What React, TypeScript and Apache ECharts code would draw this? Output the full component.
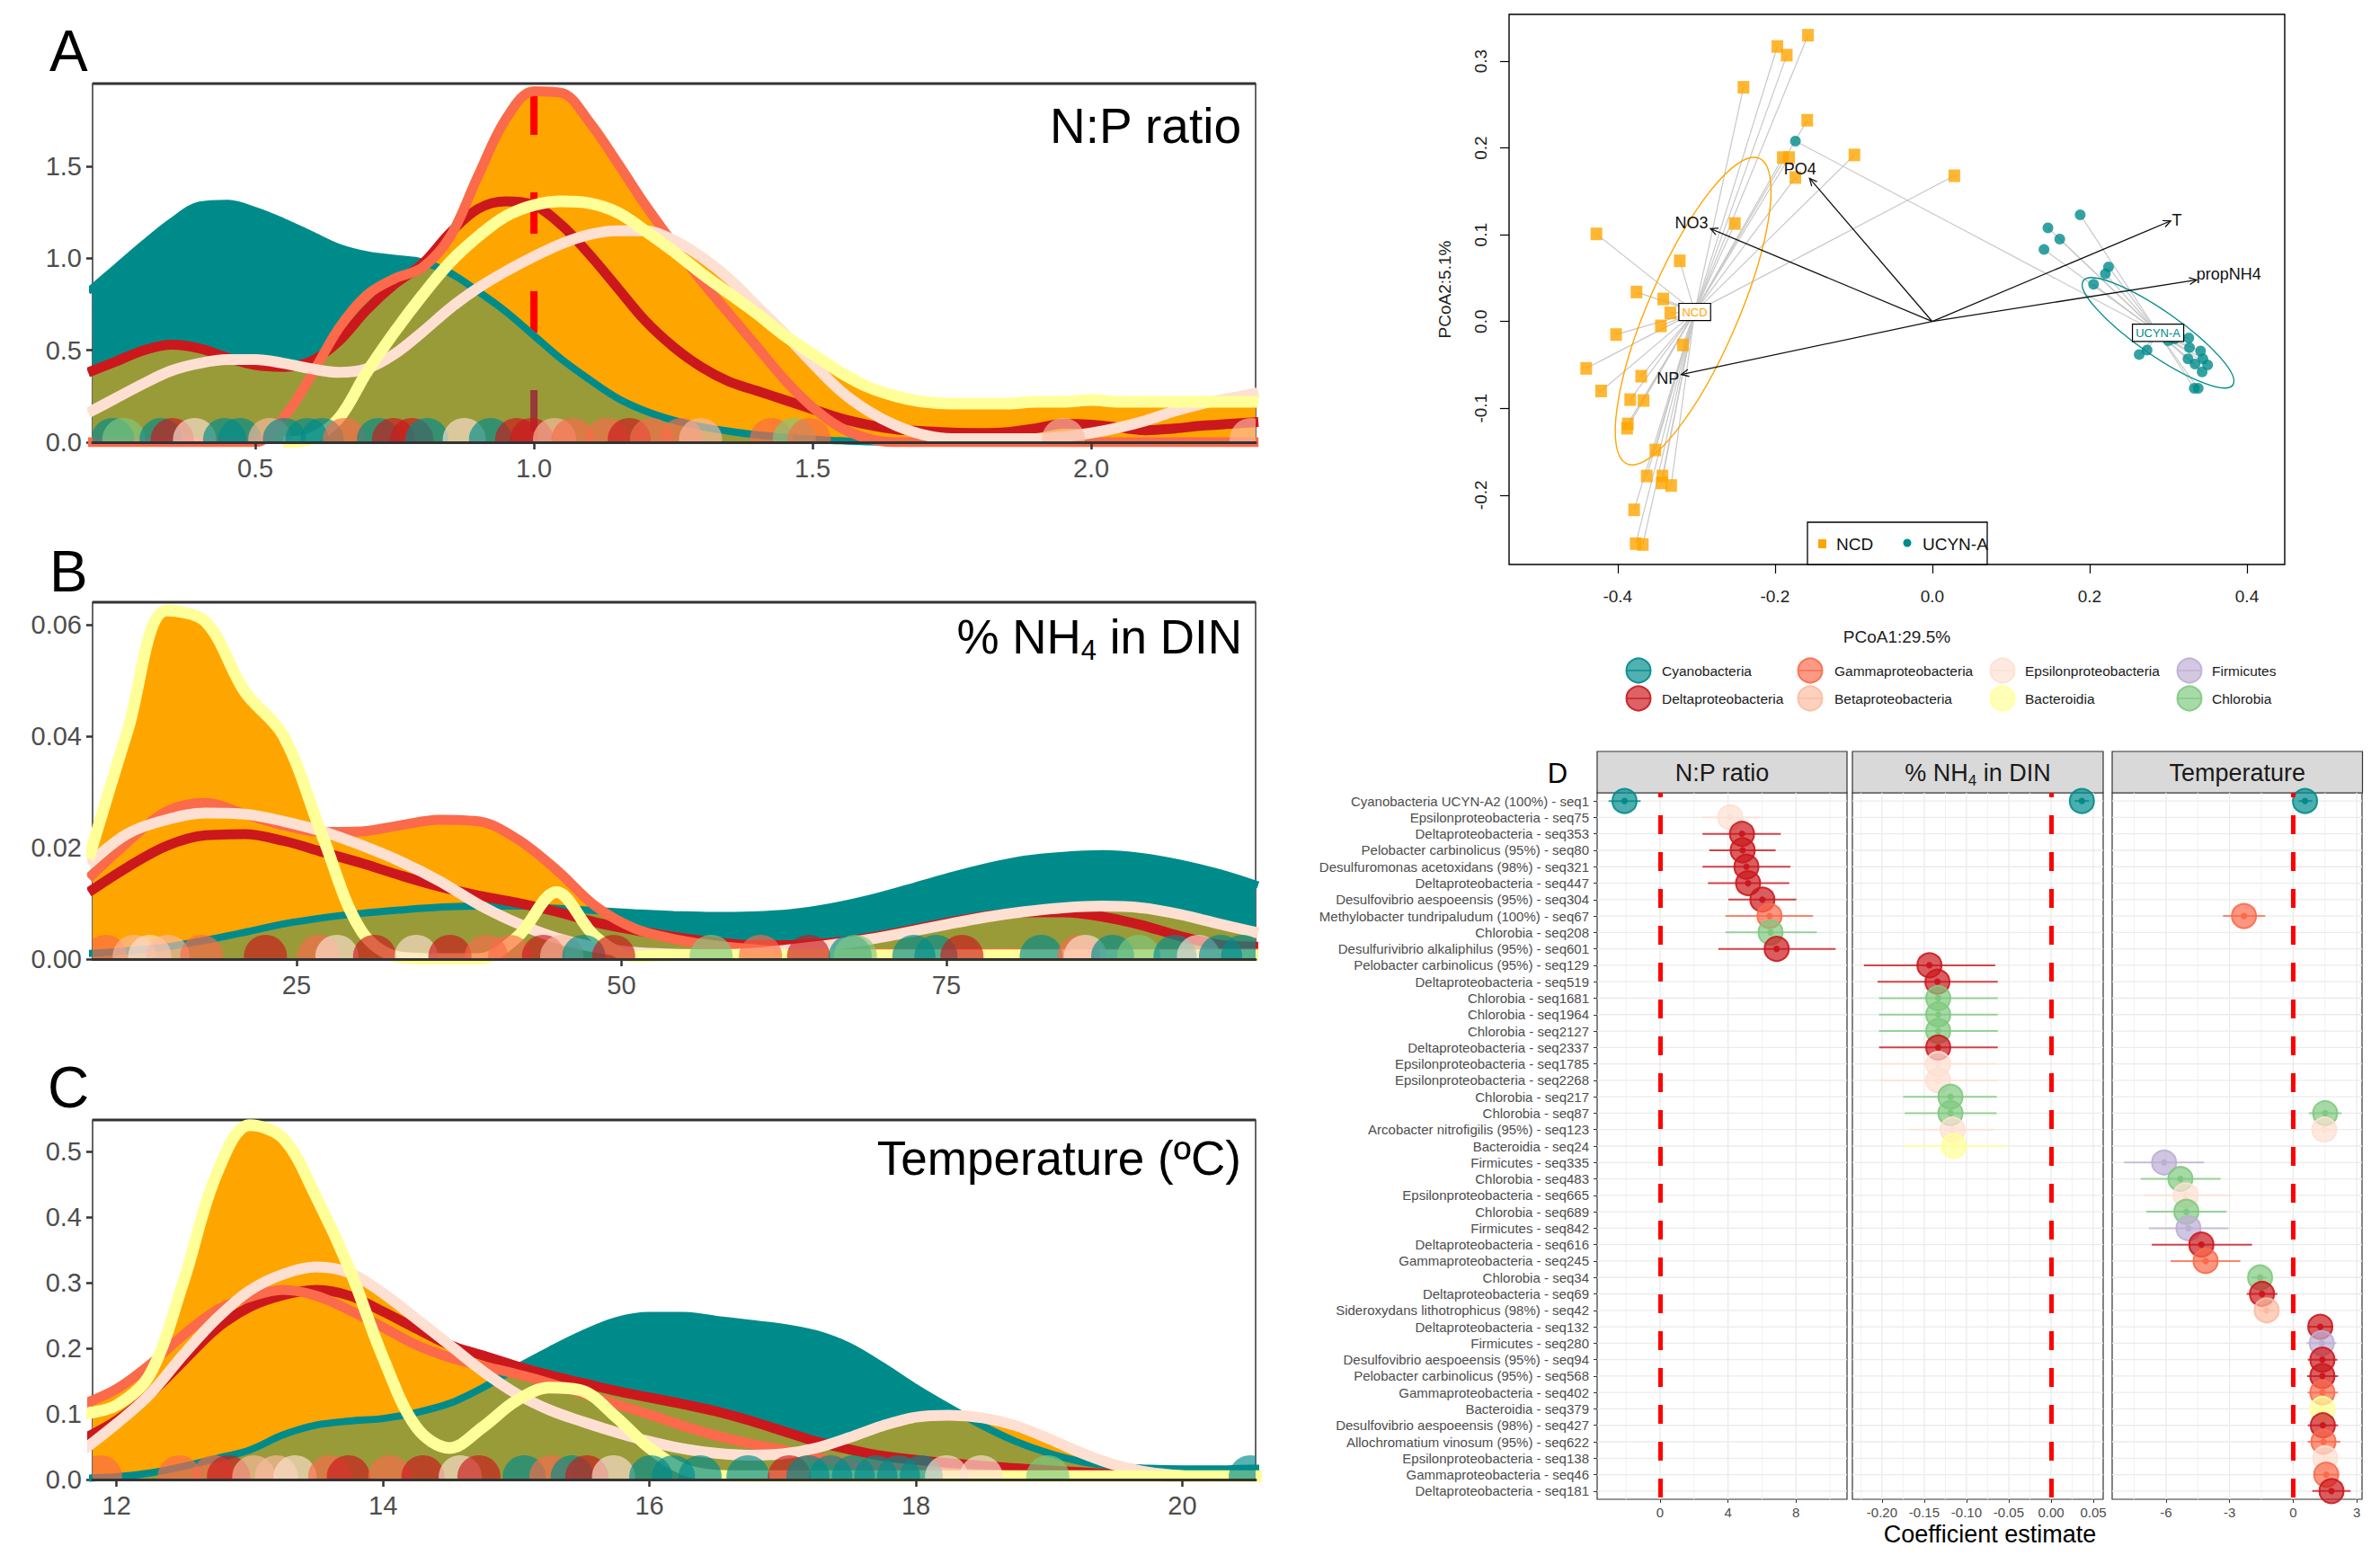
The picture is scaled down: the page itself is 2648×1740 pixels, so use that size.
import React, { useEffect, useRef } from "react";
import * as echarts from "echarts";

// ---------------- shared taxa ----------------
const TAXA = ["Cyanobacteria", "Deltaproteobacteria", "Gammaproteobacteria", "Betaproteobacteria", "Epsilonproteobacteria", "Bacteroidia", "Firmicutes", "Chlorobia"];
const TAXA_COLORS = ["#008B8B", "#CB181D", "#FB6A4A", "#FCBBA1", "#FEE0D2", "#FFFF99", "#BEAED4", "#7FC97F"];
const TEAL = "#008B8B";
const ORANGE = "#FFA500";
const FONT = "'Liberation Sans', Arial, Helvetica, sans-serif";

// ---------------- Panel A: N:P ratio ----------------
const NP_X = [0.20, 0.25, 0.30, 0.35, 0.40, 0.45, 0.50, 0.55, 0.60, 0.65, 0.70, 0.75, 0.80, 0.85, 0.90, 0.95, 1.00, 1.05, 1.10, 1.15, 1.20, 1.25, 1.30, 1.35, 1.40, 1.45, 1.50, 1.55, 1.60, 1.65, 1.70, 1.75, 1.80, 1.85, 1.90, 1.95, 2.00, 2.05, 2.10, 2.15, 2.20, 2.25, 2.30];
const NP_CYANO = [0.82, 0.95, 1.08, 1.20, 1.29, 1.30, 1.26, 1.20, 1.13, 1.06, 1.02, 1.00, 0.98, 0.92, 0.82, 0.71, 0.58, 0.45, 0.34, 0.24, 0.17, 0.12, 0.085, 0.06, 0.04, 0.027, 0.017, 0.008, 0.002, 0, 0, 0, 0, 0, 0, 0, 0, 0, 0, 0, 0, 0, 0];
const NP_DELTA = [0.38, 0.44, 0.50, 0.53, 0.51, 0.46, 0.42, 0.41, 0.44, 0.55, 0.72, 0.86, 0.97, 1.14, 1.27, 1.31, 1.29, 1.18, 1.02, 0.84, 0.66, 0.52, 0.41, 0.33, 0.28, 0.23, 0.18, 0.13, 0.095, 0.07, 0.06, 0.052, 0.05, 0.055, 0.075, 0.10, 0.095, 0.08, 0.065, 0.075, 0.09, 0.10, 0.11];
const NP_GAMMA = [0, 0, 0, 0, 0, 0, 0, 0.13, 0.36, 0.62, 0.80, 0.89, 0.95, 1.12, 1.45, 1.76, 1.91, 1.90, 1.74, 1.52, 1.29, 1.08, 0.88, 0.70, 0.52, 0.34, 0.19, 0.08, 0.02, 0, 0, 0, 0, 0, 0, 0, 0, 0, 0, 0, 0, 0, 0];
const NP_EPSILON = [0.16, 0.24, 0.32, 0.39, 0.43, 0.45, 0.45, 0.43, 0.40, 0.38, 0.40, 0.48, 0.60, 0.73, 0.84, 0.93, 1.01, 1.08, 1.13, 1.15, 1.15, 1.10, 1.01, 0.89, 0.74, 0.59, 0.43, 0.28, 0.17, 0.09, 0.04, 0.02, 0.02, 0.02, 0.02, 0.03, 0.05, 0.08, 0.12, 0.17, 0.21, 0.24, 0.27];
// null = no density drawn for this group at that x
const NP_BACTEROIDIA = [null, null, null, null, null, null, null, 0, 0.02, 0.13, 0.38, 0.60, 0.80, 0.98, 1.12, 1.23, 1.29, 1.31, 1.30, 1.25, 1.15, 1.04, 0.92, 0.81, 0.70, 0.58, 0.48, 0.38, 0.30, 0.25, 0.22, 0.21, 0.21, 0.21, 0.22, 0.22, 0.23, 0.22, 0.22, 0.22, 0.22, 0.22, 0.22];
const NP_REFERENCE = 1.0;
const RUG_NP_X = [0.244, 0.264, 0.331, 0.351, 0.391, 0.445, 0.472, 0.526, 0.552, 0.593, 0.62, 0.66, 0.721, 0.748, 0.781, 0.808, 0.875, 0.922, 0.969, 0.996, 1.037, 1.07, 1.131, 1.171, 1.211, 1.265, 1.299, 1.426, 1.467, 1.494, 1.95, 2.287];
const RUG_NP_T = [0, 7, 0, 1, 4, 0, 0, 3, 0, 0, 0, 2, 0, 1, 1, 0, 4, 0, 1, 1, 3, 2, 2, 1, 2, 2, 3, 2, 7, 2, 3, 3];

// ---------------- Panel B: % NH4 in DIN ----------------
const NH4_X = [9, 12, 15, 18, 21, 24, 27, 30, 33, 36, 39, 42, 45, 48, 51, 54, 57, 60, 63, 66, 69, 72, 75, 78, 81, 84, 87, 90, 93, 96, 99];
const NH4_CYANO = [0.001, 0.0015, 0.0022, 0.0034, 0.0048, 0.0063, 0.0074, 0.0082, 0.0088, 0.0093, 0.0095, 0.0095, 0.0091, 0.0087, 0.0083, 0.0080, 0.0078, 0.0079, 0.0083, 0.0093, 0.0108, 0.0127, 0.0147, 0.0165, 0.0179, 0.0186, 0.0189, 0.0184, 0.0172, 0.0155, 0.0133];
const NH4_DELTA = [0.012, 0.0165, 0.0203, 0.0222, 0.0224, 0.0212, 0.0192, 0.0172, 0.015, 0.013, 0.0114, 0.0101, 0.0085, 0.0066, 0.0052, 0.004, 0.0031, 0.0025, 0.0025, 0.0029, 0.0038, 0.0051, 0.0065, 0.0077, 0.0084, 0.0084, 0.0076, 0.0061, 0.0041, 0.0026, 0.0022];
const NH4_GAMMA = [0.0145, 0.021, 0.0265, 0.028, 0.026, 0.024, 0.0228, 0.0229, 0.024, 0.025, 0.0247, 0.0215, 0.016, 0.0095, 0.0055, 0.0036, 0.0025, 0.0018, 0.0013, 0.001, 0.001, 0.001, 0.001, 0.001, 0.001, 0.001, 0.001, 0.001, 0.001, 0.001, 0.001];
const NH4_EPSILON = [0.017, 0.0225, 0.025, 0.0262, 0.026, 0.0247, 0.0229, 0.0204, 0.0175, 0.014, 0.0098, 0.0064, 0.0038, 0.0021, 0.0012, 0.0009, 0.0008, 0.001, 0.0017, 0.0025, 0.0035, 0.0048, 0.0062, 0.0075, 0.0085, 0.0092, 0.0095, 0.0092, 0.008, 0.0063, 0.0047];
const NH4_BACTEROIDIA = [0.018, 0.041, 0.0625, 0.0605, 0.048, 0.040, 0.022, 0.005, 0.0003, 0, 0, 0.004, 0.012, 0.004, 0.0005, 0.0007, 0.0007, 0.0007, 0.0007, 0.0007, 0.0007, 0.0007, 0.0007, 0.0007, 0.0007, 0.0007, 0.0007, 0.0007, 0.0007, 0.0007, 0.0007];
const RUG_NH4_X = [10.3, 12.5, 13.7, 15.1, 17.7, 22.6, 26.7, 28.1, 31.0, 34.2, 36.8, 39.6, 41.4, 44.0, 45.4, 47.1, 49.4, 56.9, 60.7, 64.4, 67.6, 68.0, 72.5, 74.2, 76.2, 82.3, 85.2, 85.7, 87.8, 89.8, 92.6, 94.4, 96.1, 97.8];
const RUG_NH4_T = [2, 3, 4, 3, 2, 1, 2, 4, 1, 4, 1, 2, 2, 1, 3, 0, 1, 7, 2, 1, 0, 7, 0, 0, 1, 0, 2, 4, 0, 7, 0, 4, 0, 0];

// ---------------- Panel C: Temperature ----------------
const T_X = [11.75, 12, 12.25, 12.5, 12.75, 13, 13.25, 13.5, 13.75, 14, 14.25, 14.5, 14.75, 15, 15.25, 15.5, 15.75, 16, 16.25, 16.5, 16.75, 17, 17.25, 17.5, 17.75, 18, 18.25, 18.5, 18.75, 19, 19.25, 19.5, 19.75, 20, 20.25, 20.5, 20.75];
const T_CYANO = [0.002, 0.004, 0.01, 0.02, 0.032, 0.045, 0.068, 0.083, 0.089, 0.093, 0.102, 0.116, 0.14, 0.17, 0.197, 0.222, 0.242, 0.25, 0.25, 0.244, 0.238, 0.232, 0.222, 0.203, 0.173, 0.14, 0.11, 0.082, 0.058, 0.04, 0.027, 0.02, 0.017, 0.016, 0.016, 0.017, 0.017];
const T_DELTA = [0.062, 0.09, 0.13, 0.18, 0.23, 0.263, 0.281, 0.289, 0.28, 0.256, 0.23, 0.205, 0.189, 0.173, 0.159, 0.147, 0.135, 0.125, 0.115, 0.104, 0.09, 0.074, 0.058, 0.046, 0.036, 0.03, 0.025, 0.021, 0.017, 0.014, 0.011, 0.008, 0.007, 0.006, 0.005, 0.005, 0.005];
const T_GAMMA = [0.115, 0.138, 0.175, 0.22, 0.258, 0.278, 0.289, 0.28, 0.258, 0.232, 0.205, 0.186, 0.173, 0.161, 0.147, 0.131, 0.115, 0.099, 0.082, 0.067, 0.055, 0.045, 0.033, 0.025, 0.018, 0.014, 0.01, 0.008, 0.006, 0.006, 0.005, 0.005, 0.005, 0.004, 0.004, 0.004, 0.004];
const T_EPSILON = [0.045, 0.085, 0.13, 0.19, 0.245, 0.288, 0.313, 0.324, 0.315, 0.284, 0.245, 0.205, 0.165, 0.131, 0.106, 0.088, 0.072, 0.058, 0.047, 0.04, 0.037, 0.039, 0.048, 0.064, 0.082, 0.095, 0.098, 0.094, 0.082, 0.062, 0.04, 0.022, 0.011, 0.006, 0.004, 0.004, 0.004];
const T_BACTEROIDIA = [0.10, 0.113, 0.16, 0.30, 0.465, 0.54, 0.52, 0.43, 0.32, 0.186, 0.08, 0.048, 0.08, 0.12, 0.14, 0.135, 0.095, 0.048, 0.016, 0.006, 0.005, 0.005, 0.005, 0.005, 0.005, 0.005, 0.005, 0.005, 0.005, 0.005, 0.005, 0.005, 0.005, 0.005, 0.005, 0.005, 0.005];
const RUG_T_X = [11.88, 12.47, 12.73, 12.84, 13.03, 13.2, 13.34, 13.6, 13.74, 14.05, 14.3, 14.58, 14.72, 15.06, 15.26, 15.42, 15.53, 15.73, 16.01, 16.18, 16.38, 16.74, 17.05, 17.19, 17.36, 17.53, 17.7, 17.87, 18.04, 18.23, 18.49, 18.99, 20.51];
const RUG_T_T = [2, 2, 2, 1, 3, 3, 4, 2, 1, 2, 1, 4, 1, 0, 2, 0, 1, 4, 0, 0, 0, 0, 1, 0, 0, 0, 0, 0, 0, 4, 4, 7, 0];

// axis ranges / ticks for density panels
const DENS_AXES = [
  { xmin: 0.208, xmax: 2.295, xt: [0.5, 1.0, 1.5, 2.0], xd: 1, ymax: 1.951, yt: [0, 0.5, 1.0, 1.5], yd: 1 },
  { xmin: 9.3, xmax: 98.8, xt: [25, 50, 75], xd: 0, ymax: 0.064, yt: [0, 0.02, 0.04, 0.06], yd: 2 },
  { xmin: 11.82, xmax: 20.55, xt: [12, 14, 16, 18, 20], xd: 0, ymax: 0.548, yt: [0, 0.1, 0.2, 0.3, 0.4, 0.5], yd: 1 },
];

// ---------------- PCoA ----------------
const NCD_X = [-0.158, -0.197, -0.185, -0.240, -0.159, -0.190, -0.182, -0.099, -0.174, 0.028, -0.251, -0.427, -0.321, -0.376, -0.342, -0.333, -0.345, -0.402, -0.317, -0.440, -0.370, -0.421, -0.384, -0.367, -0.387, -0.388, -0.352, -0.363, -0.343, -0.344, -0.332, -0.379, -0.377, -0.368];
const NCD_Y = [0.330, 0.317, 0.307, 0.270, 0.232, 0.189, 0.189, 0.192, 0.166, 0.168, 0.113, 0.101, 0.070, 0.034, 0.026, 0.010, -0.005, -0.015, -0.027, -0.054, -0.063, -0.080, -0.090, -0.091, -0.118, -0.123, -0.148, -0.178, -0.178, -0.186, -0.189, -0.217, -0.256, -0.257];
const UCYN_X = [-0.174, 0.188, 0.147, 0.162, 0.142, 0.224, 0.220, 0.205, 0.300, 0.308, 0.326, 0.327, 0.273, 0.263, 0.341, 0.325, 0.344, 0.334, 0.350, 0.343, 0.333, 0.338];
const UCYN_Y = [0.208, 0.123, 0.108, 0.095, 0.083, 0.063, 0.055, 0.043, -0.022, -0.020, -0.019, -0.030, -0.033, -0.038, -0.034, -0.043, -0.043, -0.049, -0.050, -0.058, -0.077, -0.077];
const GROUPS = ["NCD", "UCYN-A"];
const GROUP_COLORS = [ORANGE, TEAL];
const CENT_X = [-0.302, 0.287];
const CENT_Y = [0.011, -0.013];
const ELL_CX = [-0.304, 0.287];
const ELL_CY = [0.012, -0.013];
const ELL_EX = [-0.220, 0.382];
const ELL_EY = [0.188, -0.073];
const ELL_RATIO = [0.27, 0.24];
const VAR_NAMES = ["NO3", "PO4", "T", "propNH4", "NP"];
const VAR_END_X = [-0.282, -0.156, 0.303, 0.336, -0.319];
const VAR_END_Y = [0.107, 0.165, 0.116, 0.048, -0.061];
const VAR_LAB_X = [-0.306, -0.168, 0.311, 0.377, -0.336];
const VAR_LAB_Y = [0.114, 0.176, 0.117, 0.055, -0.066];
const PC_XT = [-0.4, -0.2, 0.0, 0.2, 0.4];
const PC_YT = [-0.2, -0.1, 0.0, 0.1, 0.2, 0.3];

// ---------------- Panel D: coefficients ----------------
const D_NAMES = [
  "Cyanobacteria UCYN-A2 (100%) - seq1", "Epsilonproteobacteria - seq75", "Deltaproteobacteria - seq353", "Pelobacter carbinolicus (95%) - seq80",
  "Desulfuromonas acetoxidans (98%) - seq321", "Deltaproteobacteria - seq447", "Desulfovibrio aespoeensis (95%) - seq304", "Methylobacter tundripaludum (100%) - seq67",
  "Chlorobia - seq208", "Desulfurivibrio alkaliphilus (95%) - seq601", "Pelobacter carbinolicus (95%) - seq129", "Deltaproteobacteria - seq519",
  "Chlorobia - seq1681", "Chlorobia - seq1964", "Chlorobia - seq2127", "Deltaproteobacteria - seq2337",
  "Epsilonproteobacteria - seq1785", "Epsilonproteobacteria - seq2268", "Chlorobia - seq217", "Chlorobia - seq87",
  "Arcobacter nitrofigilis (95%) - seq123", "Bacteroidia - seq24", "Firmicutes - seq335", "Chlorobia - seq483",
  "Epsilonproteobacteria - seq665", "Chlorobia - seq689", "Firmicutes - seq842", "Deltaproteobacteria - seq616",
  "Gammaproteobacteria - seq245", "Chlorobia - seq34", "Deltaproteobacteria - seq69", "Sideroxydans lithotrophicus (98%) - seq42",
  "Deltaproteobacteria - seq132", "Firmicutes - seq280", "Desulfovibrio aespoeensis (95%) - seq94", "Pelobacter carbinolicus (95%) - seq568",
  "Gammaproteobacteria - seq402", "Bacteroidia - seq379", "Desulfovibrio aespoeensis (98%) - seq427", "Allochromatium vinosum (95%) - seq622",
  "Epsilonproteobacteria - seq138", "Gammaproteobacteria - seq46", "Deltaproteobacteria - seq181",
];
const D_TAXA = [0, 4, 1, 1, 1, 1, 1, 2, 7, 1, 1, 1, 7, 7, 7, 1, 4, 4, 7, 7, 4, 5, 6, 7, 4, 7, 6, 1, 2, 7, 1, 3, 1, 6, 1, 1, 2, 5, 1, 2, 4, 2, 1];

const NP_ROWS = [1, 2, 3, 4, 5, 6, 7, 8, 9, 10];
const NP_EST = [-2.09, 4.13, 4.82, 4.86, 5.08, 5.18, 6.02, 6.44, 6.50, 6.86];
const NP_LO = [-3.03, 2.44, 2.50, 2.90, 2.50, 2.82, 4.02, 3.85, 3.85, 3.43];
const NP_HI = [-1.14, 5.92, 7.10, 6.80, 7.67, 7.60, 8.02, 9.00, 9.22, 10.33];

const NH4_ROWS = [1, 11, 12, 13, 14, 15, 16, 17, 18, 19, 20, 21, 22];
const NH4_EST = [0.0365, -0.1439, -0.1344, -0.1335, -0.1335, -0.1335, -0.1335, -0.1335, -0.1335, -0.119, -0.119, -0.1165, -0.115];
const NH4_LO = [0.028, -0.2214, -0.2052, -0.2035, -0.2035, -0.2035, -0.2035, -0.2035, -0.2035, -0.175, -0.173, -0.168, -0.175];
const NH4_HI = [0.045, -0.066, -0.063, -0.063, -0.063, -0.063, -0.063, -0.063, -0.063, -0.064, -0.0645, -0.067, -0.0525];

const TEMP_ROWS = [1, 8, 20, 21, 23, 24, 25, 26, 27, 28, 29, 30, 31, 32, 33, 34, 35, 36, 37, 38, 39, 40, 41, 42, 43];
const TEMP_EST = [0.56, -2.32, 1.51, 1.47, -6.09, -5.32, -5.07, -5.04, -4.94, -4.33, -4.13, -1.56, -1.47, -1.25, 1.28, 1.35, 1.38, 1.38, 1.38, 1.38, 1.40, 1.43, 1.51, 1.56, 1.81];
const TEMP_LO = [0.25, -3.31, 0.74, 0.95, -7.98, -7.19, -7.05, -6.93, -6.80, -6.67, -5.78, -1.95, -2.19, -1.60, 0.71, 0.63, 0.69, 0.66, 0.69, 0.80, 0.69, 0.69, 0.97, 0.97, 0.90];
const TEMP_HI = [0.90, -1.32, 2.29, 2.00, -4.20, -3.43, -2.92, -3.14, -3.05, -1.94, -2.49, -1.25, -0.74, -0.90, 1.89, 2.04, 2.09, 2.12, 2.12, 1.98, 2.12, 2.23, 2.09, 2.17, 2.71];

const D_FACETS = [
  { title: "N:P ratio", min: -3.7, max: 11.0, major: [0, 4, 8], minor: [-2, 2, 6, 10], dec: 0 },
  { title: "% NH4 in DIN", min: -0.235, max: 0.0617, major: [-0.2, -0.15, -0.1, -0.05, 0, 0.05], minor: [-0.225, -0.175, -0.125, -0.075, -0.025, 0.025], dec: 2 },
  { title: "Temperature", min: -8.54, max: 3.25, major: [-6, -3, 0, 3], minor: [-7.5, -4.5, -1.5, 1.5], dec: 0 },
];

// ---------------- helpers ----------------
function rgba(hex: string, a: number) {
  const n = parseInt(hex.slice(1), 16);
  return `rgba(${(n >> 16) & 255},${(n >> 8) & 255},${n & 255},${a})`;
}

const LINE_COLORS = [TAXA_COLORS[1], TAXA_COLORS[2], TAXA_COLORS[4], TAXA_COLORS[5]];
const LINE_WIDTHS = [11, 11, 12, 13];

function rugRender(params: any, api: any) {
  const cs = params.coordSys;
  const x = api.value(0);
  const t = api.value(2);
  const p = api.coord([x, 0]);
  const r = 24;
  const off = 3;
  const cy = p[1] - off;
  const a0 = Math.asin(off / r);
  const pts: number[][] = [];
  const N = 28;
  for (let i = 0; i <= N; i++) {
    const a = -a0 + ((Math.PI + 2 * a0) * i) / N;
    const px = Math.min(cs.x + cs.width, Math.max(cs.x, p[0] + r * Math.cos(a)));
    pts.push([px, cy - r * Math.sin(a)]);
  }
  return { type: "polygon", shape: { points: pts }, style: { fill: rgba(TAXA_COLORS[t], 0.66) } };
}

function densitySeries(gi: number, X: number[], teal: number[], lines: any[][], rugX: number[], rugT: number[], ymax: number, vline: number | null) {
  const pts = (ys: any[]) => X.map((x, i) => [x, ys[i] === null ? "-" : ys[i]]);
  const base = { type: "line", xAxisIndex: gi, yAxisIndex: gi, smooth: 0.35, symbol: "none", silent: true };
  const out: any[] = [];
  out.push({ ...base, z: 1, data: pts(teal), lineStyle: { width: 0, opacity: 0 }, areaStyle: { color: TEAL, opacity: 1 } });
  lines.forEach((ys) => out.push({ ...base, z: 2, data: pts(ys), lineStyle: { width: 0, opacity: 0 }, areaStyle: { color: ORANGE, opacity: 1 } }));
  if (vline !== null) {
    out.push({ ...base, z: 3, smooth: false, data: [[vline, ymax], [vline, 0]], lineStyle: { color: "#FF0000", width: 8, type: [46, 64], dashOffset: 99 } });
  }
  out.push({ ...base, z: 4, data: pts(teal), lineStyle: { width: 0, opacity: 0 }, areaStyle: { color: TEAL, opacity: 0.4 } });
  out.push({ ...base, z: 5, data: pts(teal), lineStyle: { color: TEAL, width: 8 } });
  lines.forEach((ys, k) => out.push({ ...base, z: 6 + k, data: pts(ys), lineStyle: { color: LINE_COLORS[k], width: LINE_WIDTHS[k] } }));
  out.push({ type: "custom", z: 12, xAxisIndex: gi, yAxisIndex: gi, silent: true, data: rugX.map((x, i) => [x, 0, rugT[i]]), renderItem: rugRender });
  return out;
}

function coefRender(params: any, api: any) {
  const est = api.value(0);
  const row = api.value(1);
  const lo = api.value(2);
  const hi = api.value(3);
  const c = TAXA_COLORS[api.value(4)];
  const p = api.coord([est, row]);
  const pl = api.coord([lo, row]);
  const ph = api.coord([hi, row]);
  return {
    type: "group",
    children: [
      { type: "line", shape: { x1: pl[0], y1: pl[1], x2: ph[0], y2: ph[1] }, style: { stroke: rgba(c, 0.8), lineWidth: 2 } },
      { type: "circle", shape: { cx: p[0], cy: p[1], r: 13.5 }, style: { fill: rgba(c, 0.7), stroke: rgba(c, 0.9), lineWidth: 2 } },
      { type: "circle", shape: { cx: p[0], cy: p[1], r: 3.6 }, style: { fill: rgba(c, 1) } },
    ],
  };
}

function gridRenderFactory(major: number[], minor: number[]) {
  return (params: any, api: any) => {
    const cs = params.coordSys;
    const children: any[] = [];
    minor.forEach((v) => {
      const x = api.coord([v, 0])[0];
      children.push({ type: "line", shape: { x1: x, y1: cs.y, x2: x, y2: cs.y + cs.height }, style: { stroke: "#F2F2F2", lineWidth: 1 } });
    });
    D_NAMES.forEach((n, i) => {
      const y = api.coord([0, i])[1];
      children.push({ type: "line", shape: { x1: cs.x, y1: y, x2: cs.x + cs.width, y2: y }, style: { stroke: "#EBEBEB", lineWidth: 1.3 } });
    });
    major.forEach((v) => {
      const x = api.coord([v, 0])[0];
      children.push({ type: "line", shape: { x1: x, y1: cs.y, x2: x, y2: cs.y + cs.height }, style: { stroke: "#EBEBEB", lineWidth: 1.3 } });
    });
    return { type: "group", children };
  };
}

function txt(text: string, x: number, y: number, size: number, align: string, color = "#000", extra: any = {}) {
  return { type: "text", x, y, silent: true, style: { text, fontSize: size, fontFamily: FONT, fill: color, textAlign: align, textVerticalAlign: "middle", ...extra } };
}

function buildOption() {
  const gridLayout = [
    { left: 103, top: 93, width: 1294, height: 399 },
    { left: 103, top: 670, width: 1294, height: 397 },
    { left: 103, top: 1246, width: 1294, height: 400 },
    { left: 1679, top: 16, width: 863, height: 612 },
    { left: 1777, top: 882, width: 278, height: 786 },
    { left: 2061, top: 882, width: 279, height: 786 },
    { left: 2350, top: 882, width: 278, height: 786 },
  ];
  const grid = gridLayout.map((g, i) => ({
    ...g, show: true, containLabel: false, backgroundColor: "transparent",
    borderColor: i === 3 ? "#000" : "#333", borderWidth: i === 3 ? 1.4 : i < 3 ? 1.5 : 1.2,
  }));

  const xAxis: any[] = [];
  const yAxis: any[] = [];
  DENS_AXES.forEach((d, i) => {
    xAxis.push({
      gridIndex: i, type: "value", min: d.xmin, max: d.xmax, z: 20,
      axisLine: { show: true, onZero: false, lineStyle: { color: "#333", width: 3 } },
      axisTick: { show: true, customValues: d.xt, length: 8, lineStyle: { color: "#333", width: 2.5 } },
      axisLabel: { customValues: d.xt, formatter: (v: number) => v.toFixed(d.xd), fontSize: 29, color: "#4D4D4D", margin: 14 },
      splitLine: { show: false },
    });
    yAxis.push({
      gridIndex: i, type: "value", min: 0, max: d.ymax,
      axisLine: { show: false, onZero: false },
      axisTick: { show: true, customValues: d.yt, length: 7, lineStyle: { color: "#333", width: 2.5 } },
      axisLabel: { customValues: d.yt, formatter: (v: number) => v.toFixed(d.yd), fontSize: 29, color: "#4D4D4D", margin: 12 },
      splitLine: { show: false },
    });
  });
  // PCoA axes
  xAxis.push({
    gridIndex: 3, type: "value", min: -0.538, max: 0.448,
    axisLine: { show: false, onZero: false },
    axisTick: { show: true, customValues: PC_XT, length: 10, lineStyle: { color: "#000", width: 1.2 } },
    axisLabel: { customValues: PC_XT, formatter: (v: number) => v.toFixed(1), fontSize: 19, color: "#222", margin: 26 },
    splitLine: { show: false },
    name: "PCoA1:29.5%", nameLocation: "middle", nameGap: 71, nameTextStyle: { fontSize: 19, color: "#222", fontFamily: FONT },
  });
  yAxis.push({
    gridIndex: 3, type: "value", min: -0.28, max: 0.354,
    axisLine: { show: false, onZero: false },
    axisTick: { show: true, customValues: PC_YT, length: 10, lineStyle: { color: "#000", width: 1.2 } },
    axisLabel: { customValues: PC_YT, formatter: (v: number) => v.toFixed(1), fontSize: 19, color: "#222", margin: 22, rotate: 90 },
    splitLine: { show: false },
    name: "PCoA2:5.1%", nameLocation: "middle", nameRotate: 90, nameGap: 62, nameTextStyle: { fontSize: 19, color: "#222", fontFamily: FONT },
  });
  // D axes
  D_FACETS.forEach((f, k) => {
    const gi = 4 + k;
    xAxis.push({
      gridIndex: gi, type: "value", min: f.min, max: f.max,
      axisLine: { show: false, onZero: false },
      axisTick: { show: true, customValues: f.major, length: 4, lineStyle: { color: "#333", width: 1 } },
      axisLabel: { customValues: f.major, formatter: (v: number) => v.toFixed(f.dec), fontSize: 15, color: "#4D4D4D", margin: 7 },
      splitLine: { show: false },
    });
    yAxis.push({
      gridIndex: gi, type: "category", data: D_NAMES, inverse: true,
      axisLine: { show: false, onZero: false },
      axisTick: { show: k === 0, alignWithLabel: true, interval: 0, length: 4, lineStyle: { color: "#333", width: 1 } },
      axisLabel: { show: k === 0, interval: 0, fontSize: 15, color: "#4D4D4D", margin: 9 },
      splitLine: { show: false },
    });
  });

  const series: any[] = [];
  series.push(...densitySeries(0, NP_X, NP_CYANO, [NP_DELTA, NP_GAMMA, NP_EPSILON, NP_BACTEROIDIA], RUG_NP_X, RUG_NP_T, DENS_AXES[0].ymax, NP_REFERENCE));
  series.push(...densitySeries(1, NH4_X, NH4_CYANO, [NH4_DELTA, NH4_GAMMA, NH4_EPSILON, NH4_BACTEROIDIA], RUG_NH4_X, RUG_NH4_T, DENS_AXES[1].ymax, null));
  series.push(...densitySeries(2, T_X, T_CYANO, [T_DELTA, T_GAMMA, T_EPSILON, T_BACTEROIDIA], RUG_T_X, RUG_T_T, DENS_AXES[2].ymax, null));

  // PCoA: spider lines
  const spider: number[][] = [];
  NCD_X.forEach((x, i) => spider.push([x, NCD_Y[i], CENT_X[0], CENT_Y[0]]));
  UCYN_X.forEach((x, i) => spider.push([x, UCYN_Y[i], CENT_X[1], CENT_Y[1]]));
  series.push({
    type: "custom", z: 1, xAxisIndex: 3, yAxisIndex: 3, silent: true, data: spider,
    renderItem: (params: any, api: any) => {
      const a = api.coord([api.value(0), api.value(1)]);
      const b = api.coord([api.value(2), api.value(3)]);
      return { type: "line", shape: { x1: a[0], y1: a[1], x2: b[0], y2: b[1] }, style: { stroke: "#C8C8C8", lineWidth: 1.2 } };
    },
  });
  // ellipses
  series.push({
    type: "custom", z: 2, xAxisIndex: 3, yAxisIndex: 3, silent: true,
    data: ELL_CX.map((cx, i) => [cx, ELL_CY[i], ELL_EX[i], ELL_EY[i], ELL_RATIO[i]]),
    renderItem: (params: any, api: any) => {
      const c = api.coord([api.value(0), api.value(1)]);
      const e = api.coord([api.value(2), api.value(3)]);
      const dx = e[0] - c[0];
      const dy = e[1] - c[1];
      const rx = Math.sqrt(dx * dx + dy * dy);
      return {
        type: "ellipse", x: c[0], y: c[1], rotation: Math.atan2(-dy, dx),
        shape: { cx: 0, cy: 0, rx, ry: rx * api.value(4) },
        style: { fill: "none", stroke: GROUP_COLORS[params.dataIndex], lineWidth: 1.4 },
      };
    },
  });
  // arrows
  series.push({
    type: "custom", z: 3, xAxisIndex: 3, yAxisIndex: 3, silent: true,
    data: VAR_END_X.map((x, i) => [x, VAR_END_Y[i]]),
    renderItem: (params: any, api: any) => {
      const o = api.coord([0, 0]);
      const e = api.coord([api.value(0), api.value(1)]);
      const ang = Math.atan2(e[1] - o[1], e[0] - o[0]);
      const L = 9;
      const A = Math.PI / 7;
      const h1 = [e[0] - L * Math.cos(ang - A), e[1] - L * Math.sin(ang - A)];
      const h2 = [e[0] - L * Math.cos(ang + A), e[1] - L * Math.sin(ang + A)];
      return {
        type: "group",
        children: [
          { type: "line", shape: { x1: o[0], y1: o[1], x2: e[0], y2: e[1] }, style: { stroke: "#111", lineWidth: 1.3 } },
          { type: "polyline", shape: { points: [h1, e, h2] }, style: { stroke: "#111", lineWidth: 1.3, fill: "none" } },
        ],
      };
    },
  });
  series.push({
    type: "scatter", z: 4, xAxisIndex: 3, yAxisIndex: 3, silent: true, symbol: "rect", symbolSize: [13, 14],
    itemStyle: { color: ORANGE }, data: NCD_X.map((x, i) => [x, NCD_Y[i]]),
  });
  series.push({
    type: "scatter", z: 5, xAxisIndex: 3, yAxisIndex: 3, silent: true, symbol: "circle", symbolSize: 12,
    itemStyle: { color: TEAL }, data: UCYN_X.map((x, i) => [x, UCYN_Y[i]]),
  });
  // arrow labels
  series.push({
    type: "custom", z: 8, xAxisIndex: 3, yAxisIndex: 3, silent: true,
    data: VAR_LAB_X.map((x, i) => [x, VAR_LAB_Y[i]]),
    renderItem: (params: any, api: any) => {
      const p = api.coord([api.value(0), api.value(1)]);
      return { type: "text", x: p[0], y: p[1], style: { text: VAR_NAMES[params.dataIndex], fontSize: 18, fontFamily: FONT, fill: "#111", textAlign: "center", textVerticalAlign: "middle" } };
    },
  });
  // centroid labels
  series.push({
    type: "custom", z: 10, xAxisIndex: 3, yAxisIndex: 3, silent: true,
    data: CENT_X.map((x, i) => [x, CENT_Y[i]]),
    renderItem: (params: any, api: any) => {
      const p = api.coord([api.value(0), api.value(1)]);
      return {
        type: "text", x: p[0], y: p[1],
        style: {
          text: GROUPS[params.dataIndex], fontSize: 13, fontFamily: FONT, fill: GROUP_COLORS[params.dataIndex],
          textAlign: "center", textVerticalAlign: "middle", backgroundColor: "#fff", borderColor: "#000", borderWidth: 1.2, padding: [3, 3, 2, 3],
        },
      };
    },
  });

  // D facets
  const facetData = [
    NP_ROWS.map((r, k) => [NP_EST[k], D_NAMES[r - 1], NP_LO[k], NP_HI[k], D_TAXA[r - 1]]),
    NH4_ROWS.map((r, k) => [NH4_EST[k], D_NAMES[r - 1], NH4_LO[k], NH4_HI[k], D_TAXA[r - 1]]),
    TEMP_ROWS.map((r, k) => [TEMP_EST[k], D_NAMES[r - 1], TEMP_LO[k], TEMP_HI[k], D_TAXA[r - 1]]),
  ];
  D_FACETS.forEach((f, k) => {
    const gi = 4 + k;
    series.push({
      type: "custom", z: 1, xAxisIndex: gi, yAxisIndex: gi, silent: true, data: [[f.min, 0]],
      renderItem: gridRenderFactory(f.major, f.minor),
    });
    series.push({
      type: "custom", z: 3, xAxisIndex: gi, yAxisIndex: gi, silent: true, data: facetData[k], renderItem: coefRender,
      markLine: {
        silent: true, symbol: "none", label: { show: false }, animation: false,
        lineStyle: { color: "#FF0000", width: 5, type: [21, 20], dashOffset: 16 },
        data: [{ xAxis: 0 }],
      },
    });
  });

  // ---------- graphic ----------
  const g: any[] = [];
  g.push(txt("A", 55, 57, 64, "left"));
  g.push(txt("B", 55, 636, 64, "left"));
  g.push(txt("C", 53, 1210, 64, "left"));
  g.push(txt("N:P ratio", 1381, 140, 55, "right"));
  g.push({
    type: "text", x: 1382, y: 708, silent: true,
    style: {
      text: "{m|% NH}{s|4}{m| in DIN}", textAlign: "right", textVerticalAlign: "middle",
      rich: {
        m: { fontSize: 53, fontFamily: FONT, fill: "#000", color: "#000", lineHeight: 62 },
        s: { fontSize: 31, fontFamily: FONT, fill: "#000", color: "#000", lineHeight: 31, verticalAlign: "bottom" },
      },
    },
  });
  g.push(txt("Temperature (ºC)", 1381, 1288, 53, "right"));
  [93, 670, 1246].forEach((y) => g.push({ type: "line", silent: true, shape: { x1: 103, y1: y, x2: 1397, y2: y }, style: { stroke: "#333", lineWidth: 3 } }));

  // D label, strips
  g.push(txt("D", 1733, 860, 31, "center"));
  const stripX = [1777, 2061, 2350];
  const stripW = [278, 279, 278.5];
  stripX.forEach((x, k) => {
    g.push({ type: "rect", silent: true, shape: { x, y: 836, width: stripW[k], height: 46 }, style: { fill: "#D9D9D9", stroke: "#333", lineWidth: 1.2 } });
  });
  g.push(txt("N:P ratio", stripX[0] + stripW[0] / 2, 860, 27, "center", "#1A1A1A"));
  g.push({
    type: "text", x: stripX[1] + stripW[1] / 2, y: 860, silent: true,
    style: {
      text: "{m|% NH}{s|4}{m| in DIN}", textAlign: "center", textVerticalAlign: "middle",
      rich: {
        m: { fontSize: 27, fontFamily: FONT, fill: "#1A1A1A", color: "#1A1A1A", lineHeight: 33 },
        s: { fontSize: 17, fontFamily: FONT, fill: "#1A1A1A", color: "#1A1A1A", lineHeight: 17, verticalAlign: "bottom" },
      },
    },
  });
  g.push(txt("Temperature", stripX[2] + stripW[2] / 2, 860, 27, "center", "#1A1A1A"));
  g.push(txt("Coefficient estimate", 2214, 1707, 27, "center"));

  // D legend
  const legCx = [1823, 2014, 2228, 2436];
  const legTx = [1849, 2041, 2253, 2461];
  const legCy = [746, 777];
  TAXA.forEach((name, i) => {
    const col = Math.floor(i / 2);
    const row = i % 2;
    const c = TAXA_COLORS[i];
    g.push({ type: "circle", silent: true, shape: { cx: legCx[col], cy: legCy[row], r: 13.5 }, style: { fill: rgba(c, 0.68), stroke: rgba(c, 0.9), lineWidth: 2 } });
    g.push({ type: "line", silent: true, shape: { x1: legCx[col] - 13, y1: legCy[row], x2: legCx[col] + 13, y2: legCy[row] }, style: { stroke: rgba(c, 0.9), lineWidth: 1.5 } });
    g.push(txt(name, legTx[col], legCy[row], 15.5, "left", "#1A1A1A"));
  });

  // PCoA legend
  g.push({ type: "rect", silent: true, shape: { x: 2011, y: 581, width: 200, height: 47 }, style: { fill: "#fff", stroke: "#000", lineWidth: 1.3 } });
  g.push({ type: "rect", silent: true, shape: { x: 2023, y: 600, width: 9, height: 10 }, style: { fill: ORANGE } });
  g.push(txt("NCD", 2043, 605, 19, "left", "#111"));
  g.push({ type: "circle", silent: true, shape: { cx: 2122, cy: 604, r: 4.5 }, style: { fill: TEAL } });
  g.push(txt("UCYN-A", 2139, 605, 19, "left", "#111"));

  return {
    animation: false,
    backgroundColor: "#ffffff",
    textStyle: { fontFamily: FONT },
    grid,
    xAxis,
    yAxis,
    series,
    graphic: { elements: g },
  };
}

export default function App() {
  const ref = useRef<HTMLDivElement>(null);
  useEffect(() => {
    if (!ref.current) return;
    const chart = echarts.init(ref.current, null, { renderer: "svg" });
    chart.setOption(buildOption() as any);
    return () => chart.dispose();
  }, []);
  return <div ref={ref} style={{ position: "absolute", left: 0, top: 0, width: 2648, height: 1740, background: "#fff" }} />;
}
